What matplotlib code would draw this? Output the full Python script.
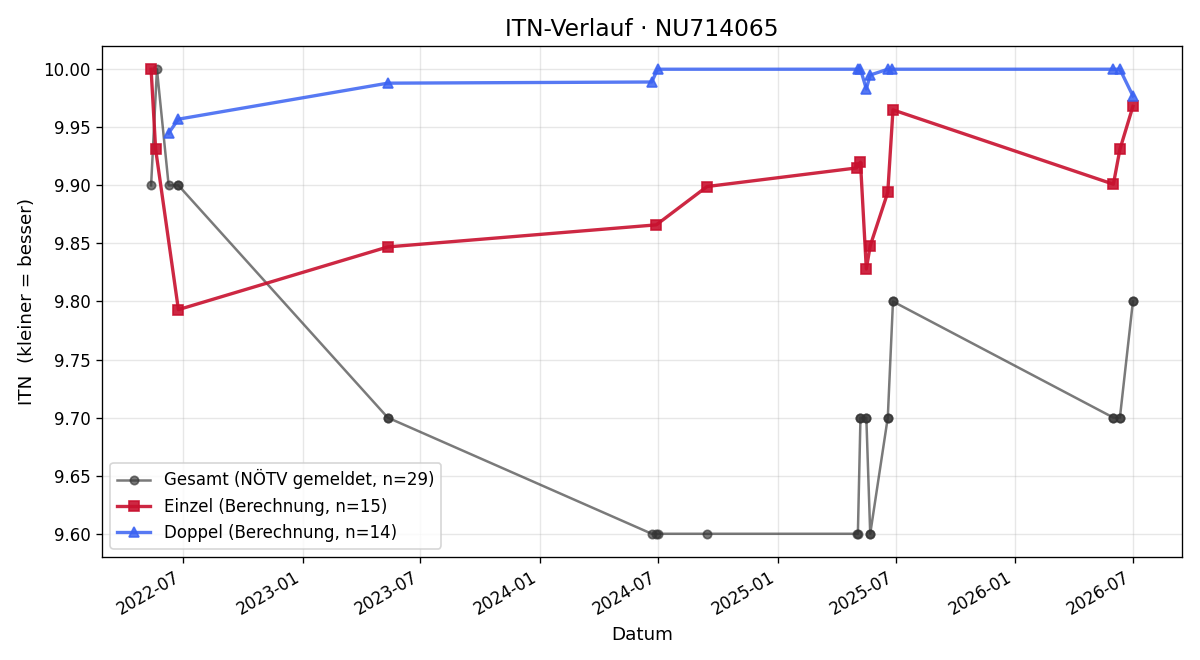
import matplotlib
matplotlib.use("Agg")
import matplotlib.pyplot as plt
import matplotlib.dates as mdates
import pandas as pd

gesamt_dates = ["2022-05-13", "2022-05-22", "2022-06-09", "2022-06-24", "2022-06-24",
                "2023-05-12", "2023-05-12", "2024-06-21", "2024-06-28", "2024-06-30",
                "2024-09-14", "2025-05-02", "2025-05-04", "2025-05-08", "2025-05-08",
                "2025-05-17", "2025-05-17", "2025-05-23", "2025-05-23", "2025-06-19",
                "2025-06-19", "2025-06-27", "2025-06-27", "2026-06-01", "2026-06-01",
                "2026-06-11", "2026-06-11", "2026-07-01", "2026-07-01"]
gesamt_vals = [9.90, 10.00, 9.90, 9.90, 9.90,
               9.70, 9.70, 9.60, 9.60, 9.60,
               9.60, 9.60, 9.60, 9.70, 9.70,
               9.70, 9.70, 9.60, 9.60, 9.70,
               9.70, 9.80, 9.80, 9.70, 9.70,
               9.70, 9.70, 9.80, 9.80]

einzel_dates = ["2022-05-13", "2022-05-20", "2022-06-24", "2023-05-12", "2024-06-28",
                "2024-09-14", "2025-05-02", "2025-05-08", "2025-05-17", "2025-05-23",
                "2025-06-19", "2025-06-27", "2026-06-01", "2026-06-11", "2026-07-01"]
einzel_vals = [10.000, 9.931, 9.793, 9.847, 9.866,
               9.899, 9.915, 9.920, 9.828, 9.848,
               9.894, 9.965, 9.901, 9.931, 9.968]

doppel_dates = ["2022-06-09", "2022-06-24", "2023-05-12", "2024-06-21", "2024-06-30",
                "2025-05-04", "2025-05-08", "2025-05-17", "2025-05-23", "2025-06-19",
                "2025-06-26", "2026-06-01", "2026-06-11", "2026-07-01"]
doppel_vals = [9.945, 9.957, 9.988, 9.989, 10.000,
               10.000, 10.000, 9.983, 9.995, 10.000,
               10.000, 10.000, 10.000, 9.977]

fig, ax = plt.subplots(figsize=(10, 5.5), dpi=120)

ax.plot(pd.to_datetime(gesamt_dates), gesamt_vals, marker="o", color="#333333", alpha=0.65,
        linewidth=1.5, markersize=5, label=f"Gesamt (NÖTV gemeldet, n={len(gesamt_vals)})")
ax.plot(pd.to_datetime(einzel_dates), einzel_vals, marker="s", color="#c8102e", alpha=0.9,
        linewidth=2, markersize=6, label=f"Einzel (Berechnung, n={len(einzel_vals)})")
ax.plot(pd.to_datetime(doppel_dates), doppel_vals, marker="^", color="#3a62f2", alpha=0.85,
        linewidth=2, markersize=6, label=f"Doppel (Berechnung, n={len(doppel_vals)})")

ax.set_title("ITN-Verlauf · NU714065", fontsize=14)
ax.set_xlabel("Datum", fontsize=11)
ax.set_ylabel("ITN  (kleiner = besser)", fontsize=11)
ax.grid(True, alpha=0.3)
ax.xaxis.set_major_locator(mdates.MonthLocator(bymonth=[1, 7]))
ax.xaxis.set_major_formatter(mdates.DateFormatter("%Y-%m"))
ax.yaxis.set_major_formatter(matplotlib.ticker.FormatStrFormatter("%.2f"))
ax.legend(loc="lower left", fontsize=10)
fig.autofmt_xdate()
fig.subplots_adjust(left=102/1200, right=1182/1200, top=1-46/660, bottom=1-557/660)
fig.savefig("out.png", dpi=120)
